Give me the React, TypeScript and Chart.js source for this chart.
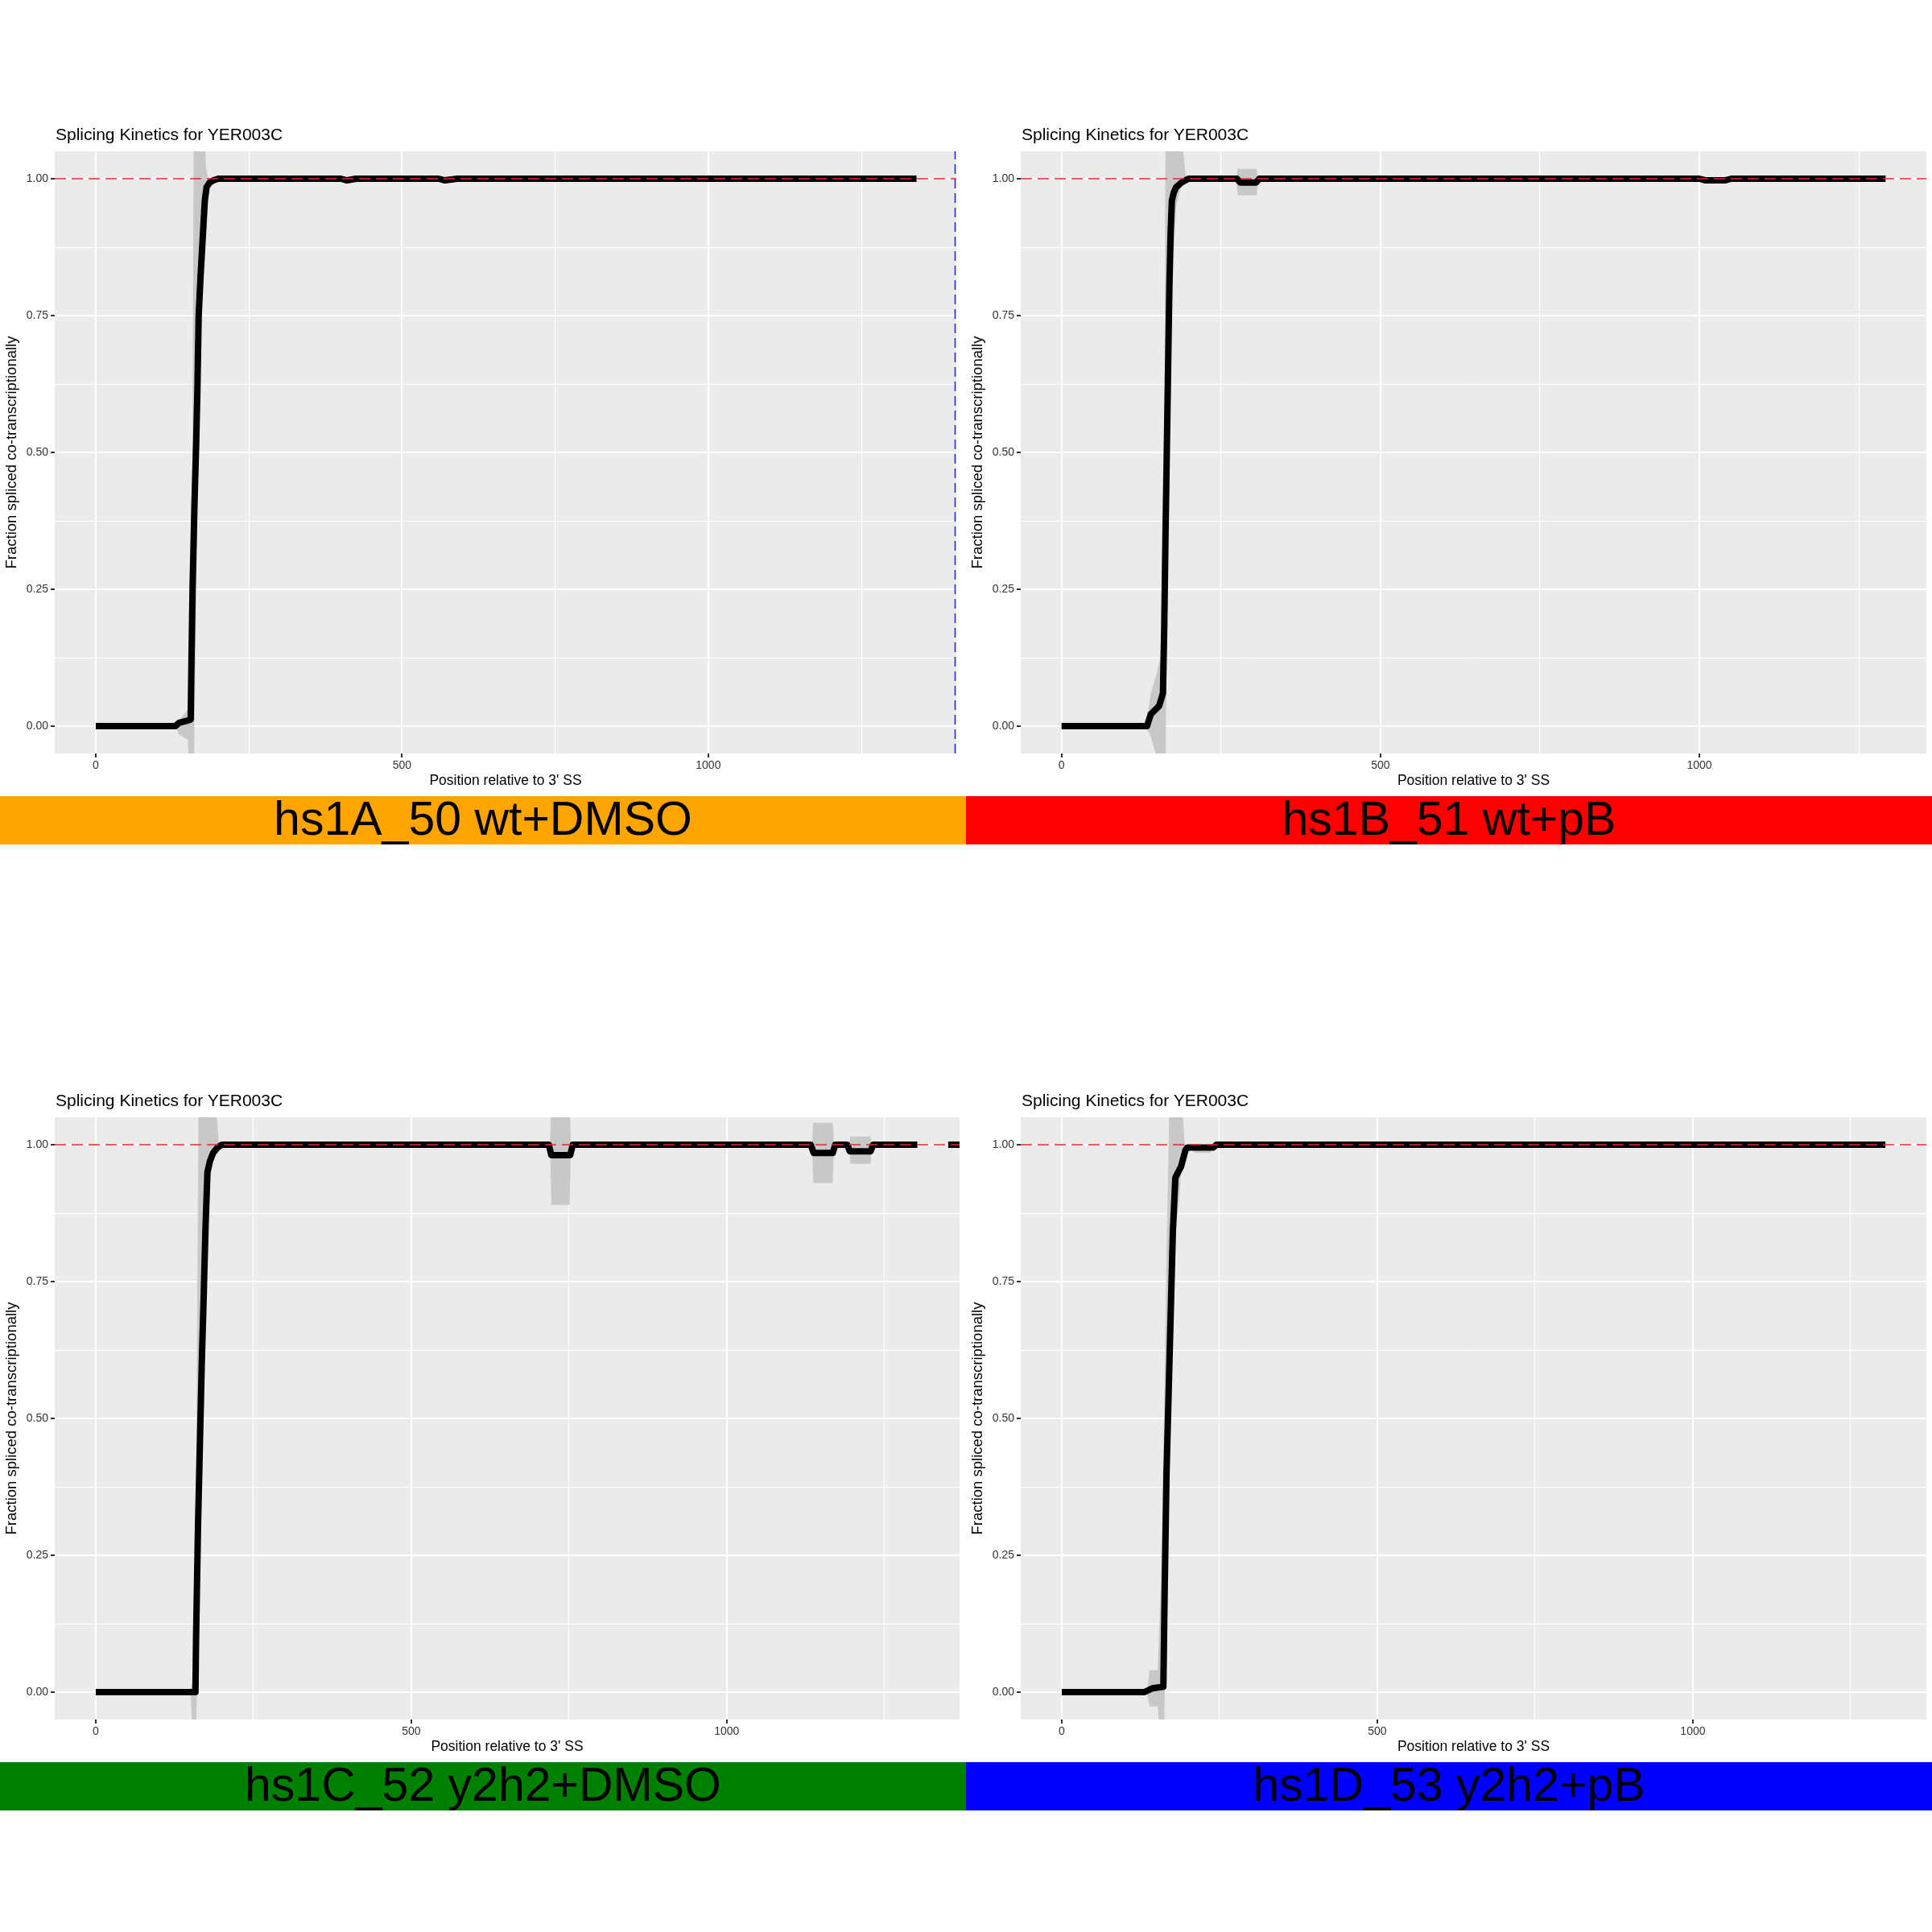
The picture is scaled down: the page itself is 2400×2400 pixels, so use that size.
import React, { useEffect, useRef } from "react";
import { Chart, registerables } from "chart.js";

Chart.register(...registerables);

const FONT = '"Liberation Sans", Arial, Helvetica, sans-serif';

const PLOT_TITLE = "Splicing Kinetics for YER003C";
const X_TITLE = "Position relative to 3' SS";
const Y_TITLE = "Fraction spliced co-transcriptionally";

const xMajorTicks = [0, 500, 1000];
const xMinorTicks = [250, 750, 1250];
const yMajorTicks = [0, 0.25, 0.5, 0.75, 1];
const yMinorTicks = [0.125, 0.375, 0.625, 0.875];

const sampleLabels = ["hs1A_50 wt+DMSO", "hs1B_51 wt+pB", "hs1C_52 y2h2+DMSO", "hs1D_53 y2h2+pB"];
const bannerColors = ["#FFA500", "#FF0000", "#008000", "#0000FF"];

// Panel A: hs1A_50 wt+DMSO
const aLineX = [0, 130, 136, 150, 155, 156, 158, 161, 164, 166, 168, 171, 175, 178, 181, 186, 192, 200, 400, 410, 425, 560, 570, 590, 1340];
const aLineY = [0, 0, 0.006, 0.01, 0.012, 0.1, 0.25, 0.4, 0.52, 0.62, 0.75, 0.82, 0.9, 0.96, 0.985, 0.993, 0.997, 1.0, 1.0, 0.997, 1.0, 1.0, 0.997, 1.0, 1.0];
const aBandX = [130, 136, 150, 154, 157, 160, 163, 168, 173, 177, 180, 184, 190, 196];
const aBandLo = [0, -0.015, -0.025, -0.1, -0.1, -0.1, 0.15, 0.55, 0.75, 0.88, 0.95, 0.985, 0.99, 1.0];
const aBandHi = [0, 0.01, 0.03, 0.06, 0.3, 1.1, 1.1, 1.1, 1.1, 1.1, 1.02, 1.0, 1.0, 1.0];
const aVline = 1403;

// Panel B: hs1B_51 wt+pB
const bLineX = [0, 134, 140, 153, 159, 161, 163, 165, 167, 169, 171, 173, 176, 180, 188, 199, 275, 280, 305, 310, 1000, 1010, 1040, 1050, 1292];
const bLineY = [0, 0, 0.022, 0.037, 0.06, 0.18, 0.35, 0.5, 0.65, 0.8, 0.9, 0.96, 0.975, 0.985, 0.993, 1.0, 1.0, 0.993, 0.993, 1.0, 1.0, 0.997, 0.997, 1.0, 1.0];
const bBandX = [132, 140, 150, 160, 163, 165, 170, 175, 180, 186, 191, 195, 274, 276, 306, 308];
const bBandLo = [0, -0.02, -0.06, -0.1, -0.1, 0.2, 0.6, 0.85, 0.95, 0.98, 0.99, 1.0, 1.0, 0.97, 0.97, 1.0];
const bBandHi = [0, 0.06, 0.1, 0.15, 1.1, 1.1, 1.1, 1.1, 1.1, 1.1, 1.05, 1.0, 1.0, 1.018, 1.018, 1.0];

// Panel C: hs1C_52 y2h2+DMSO
const cLineX = [0, 158, 159, 162, 165, 168, 171, 174, 177, 181, 186, 193, 200, 718, 722, 752, 756, 1133, 1138, 1168, 1172, 1191, 1195, 1228, 1232, 1302, 1330, 1351, 1369];
const cLineY = [0, 0, 0.1, 0.3, 0.45, 0.6, 0.72, 0.85, 0.95, 0.97, 0.985, 0.995, 1.0, 1.0, 0.981, 0.981, 1.0, 1.0, 0.985, 0.985, 1.0, 1.0, 0.988, 0.988, 1.0, 1.0, null, 1.0, 1.0];
const cBandX = [150, 155, 158, 163, 165, 170, 177, 183, 189, 195, 720, 722, 751, 753, 1135, 1137, 1168, 1170, 1194, 1196, 1228, 1230];
const cBandLo = [0, -0.1, -0.1, 0.1, 0.35, 0.6, 0.88, 0.95, 0.99, 1.0, 1.0, 0.89, 0.89, 1.0, 1.0, 0.93, 0.93, 1.0, 1.0, 0.965, 0.965, 1.0];
const cBandHi = [0, 0.03, 0.2, 1.1, 1.1, 1.1, 1.1, 1.1, 1.1, 1.0, 1.0, 1.1, 1.1, 1.0, 1.0, 1.04, 1.04, 1.0, 1.0, 1.015, 1.015, 1.0];

// Panel D: hs1D_53 y2h2+pB
const dLineX = [0, 131, 144, 161, 163, 166, 171, 176, 180, 189, 196, 199, 240, 245, 1305];
const dLineY = [0, 0, 0.007, 0.01, 0.18, 0.4, 0.62, 0.84, 0.94, 0.96, 0.99, 0.995, 0.995, 1.0, 1.0];
const dBandX = [135, 139, 152, 157, 162, 166, 171, 176, 180, 186, 189, 195, 205, 211, 236, 240];
const dBandLo = [0, -0.026, -0.026, -0.1, -0.1, 0.2, 0.45, 0.7, 0.84, 0.9, 0.95, 0.99, 0.995, 0.985, 0.985, 1.0];
const dBandHi = [0, 0.04, 0.04, 0.2, 0.5, 0.8, 1.1, 1.1, 1.1, 1.1, 1.1, 1.0, 1.0, 1.0, 1.0, 1.0];

const xMins = [-67, -64, -65, -65];
const xMaxs = [1405, 1356, 1369, 1370];
const plotRights = [1188, 1193, 1192, 1193];

type PanelSpec = {
  label: string;
  color: string;
  ox: number;
  oy: number;
  xMin: number;
  xMax: number;
  plotRight: number;
  lineX: number[];
  lineY: (number | null)[];
  bandX: number[];
  bandLo: number[];
  bandHi: number[];
  vline: number | null;
};

const panels: PanelSpec[] = [
  { label: sampleLabels[0], color: bannerColors[0], ox: 0, oy: 0, xMin: xMins[0], xMax: xMaxs[0], plotRight: plotRights[0], lineX: aLineX, lineY: aLineY, bandX: aBandX, bandLo: aBandLo, bandHi: aBandHi, vline: aVline },
  { label: sampleLabels[1], color: bannerColors[1], ox: 1200, oy: 0, xMin: xMins[1], xMax: xMaxs[1], plotRight: plotRights[1], lineX: bLineX, lineY: bLineY, bandX: bBandX, bandLo: bBandLo, bandHi: bBandHi, vline: null },
  { label: sampleLabels[2], color: bannerColors[2], ox: 0, oy: 1200, xMin: xMins[2], xMax: xMaxs[2], plotRight: plotRights[2], lineX: cLineX, lineY: cLineY, bandX: cBandX, bandLo: cBandLo, bandHi: cBandHi, vline: null },
  { label: sampleLabels[3], color: bannerColors[3], ox: 1200, oy: 1200, xMin: xMins[3], xMax: xMaxs[3], plotRight: plotRights[3], lineX: dLineX, lineY: dLineY, bandX: dBandX, bandLo: dBandLo, bandHi: dBandHi, vline: null },
];

const CANVAS_W = 1200;
const CANVAS_H = 981;
const PLOT_TOP = 188;
const PLOT_BOTTOM = 936;
const PLOT_LEFT = 68;

const bgPlugin = {
  id: "panelBackground",
  beforeDraw(chart: any) {
    const { ctx, chartArea: a } = chart;
    ctx.save();
    ctx.fillStyle = "#EBEBEB";
    ctx.fillRect(a.left, a.top, a.right - a.left, a.bottom - a.top);
    ctx.restore();
  },
};

function Panel({ spec }: { spec: PanelSpec }) {
  const ref = useRef<HTMLCanvasElement | null>(null);

  useEffect(() => {
    if (!ref.current) return;
    const xTicks = [...xMajorTicks, ...xMinorTicks].sort((a, b) => a - b);
    const yTicks = [...yMajorTicks, ...yMinorTicks].sort((a, b) => a - b);
    const isMajorX = (v: number) => xMajorTicks.includes(v);
    const isMajorY = (v: number) => yMajorTicks.includes(v);

    const datasets: any[] = [
      {
        data: [{ x: spec.xMin, y: 1 }, { x: spec.xMax, y: 1 }],
        borderColor: "#E8262B",
        borderWidth: 1.6,
        borderDash: [14, 7],
        pointRadius: 0,
        fill: false,
        clip: 0,
      },
      {
        data: spec.vline === null ? [] : [{ x: spec.vline, y: -0.05 }, { x: spec.vline, y: 1.05 }],
        borderColor: "#2A2AF0",
        borderWidth: 1.6,
        borderDash: [12, 6],
        pointRadius: 0,
        fill: false,
        clip: 0,
      },
      {
        data: spec.lineX.map((x, i) => ({ x, y: spec.lineY[i] })),
        borderColor: "#000000",
        borderWidth: 8,
        pointRadius: 0,
        fill: false,
        spanGaps: false,
        borderJoinStyle: "round",
        clip: 0,
      },
      {
        data: spec.bandX.map((x, i) => ({ x, y: spec.bandLo[i] })),
        borderWidth: 0,
        borderColor: "rgba(0,0,0,0)",
        pointRadius: 0,
        fill: false,
        clip: 0,
      },
      {
        data: spec.bandX.map((x, i) => ({ x, y: spec.bandHi[i] })),
        borderWidth: 0,
        borderColor: "rgba(0,0,0,0)",
        backgroundColor: "rgb(200,200,200)",
        pointRadius: 0,
        fill: 3,
        clip: 0,
      },
    ];

    const chart = new Chart(ref.current, {
      type: "line",
      data: { datasets },
      plugins: [bgPlugin],
      options: {
        responsive: false,
        animation: false,
        devicePixelRatio: 1,
        layout: { padding: { top: PLOT_TOP, left: 0, right: CANVAS_W - spec.plotRight, bottom: 0 } },
        plugins: { legend: { display: false }, tooltip: { enabled: false }, title: { display: false } },
        elements: { point: { radius: 0 }, line: { tension: 0 } },
        scales: {
          x: {
            type: "linear",
            min: spec.xMin,
            max: spec.xMax,
            afterFit: (s: any) => {
              s.height = CANVAS_H - PLOT_BOTTOM;
            },
            afterBuildTicks: (s: any) => {
              s.ticks = xTicks.map((v) => ({ value: v }));
            },
            ticks: {
              autoSkip: false,
              maxRotation: 0,
              minRotation: 0,
              padding: 2,
              color: "#333333",
              font: { family: FONT, size: 14 },
              callback: (v: any) => (isMajorX(Number(v)) ? String(v) : ""),
            },
            grid: {
              color: "#FFFFFF",
              lineWidth: (c: any) => (c.tick && isMajorX(c.tick.value) ? 2 : 1),
              tickLength: 5,
              tickWidth: 2,
              tickColor: (c: any) => (c.tick && isMajorX(c.tick.value) ? "#333333" : "rgba(0,0,0,0)"),
            },
            border: { display: false },
            title: { display: true, text: X_TITLE, color: "#000000", font: { family: FONT, size: 17.5 }, padding: 0 },
          },
          y: {
            type: "linear",
            position: "left",
            min: -0.05,
            max: 1.05,
            afterFit: (s: any) => {
              s.width = PLOT_LEFT;
            },
            afterBuildTicks: (s: any) => {
              s.ticks = yTicks.map((v) => ({ value: v }));
            },
            ticks: {
              autoSkip: false,
              padding: 3,
              color: "#333333",
              font: { family: FONT, size: 14 },
              callback: (v: any) => (isMajorY(Number(v)) ? Number(v).toFixed(2) : ""),
            },
            grid: {
              color: "#FFFFFF",
              lineWidth: (c: any) => (c.tick && isMajorY(c.tick.value) ? 2 : 1),
              tickLength: 5,
              tickWidth: 2,
              tickColor: (c: any) => (c.tick && isMajorY(c.tick.value) ? "#333333" : "rgba(0,0,0,0)"),
            },
            border: { display: false },
            title: { display: true, text: Y_TITLE, color: "#000000", font: { family: FONT, size: 18.5 }, padding: { top: 4, bottom: 0 } },
          },
        },
      } as any,
    });
    return () => chart.destroy();
  }, [spec]);

  return (
    <div style={{ position: "absolute", left: spec.ox, top: spec.oy, width: 1200, height: 1200 }}>
      <canvas
        ref={ref}
        width={CANVAS_W}
        height={CANVAS_H}
        style={{ position: "absolute", left: 0, top: 0, width: CANVAS_W, height: CANVAS_H }}
      />
      <div
        style={{
          position: "absolute",
          left: 69,
          top: 155,
          fontFamily: FONT,
          fontSize: 21,
          lineHeight: "24px",
          color: "#000",
          whiteSpace: "nowrap",
        }}
      >
        {PLOT_TITLE}
      </div>
      <div
        style={{
          position: "absolute",
          left: 0,
          top: 989,
          width: 1200,
          height: 60,
          background: spec.color,
          fontFamily: FONT,
          fontSize: 59,
          lineHeight: "56px",
          textAlign: "center",
          color: "#000",
          whiteSpace: "nowrap",
          overflow: "hidden",
        }}
      >
        {spec.label}
      </div>
    </div>
  );
}

export default function App() {
  return (
    <div style={{ position: "absolute", left: 0, top: 0, width: 2400, height: 2400, background: "#FFFFFF" }}>
      {panels.map((p, i) => (
        <Panel key={i} spec={p} />
      ))}
    </div>
  );
}
